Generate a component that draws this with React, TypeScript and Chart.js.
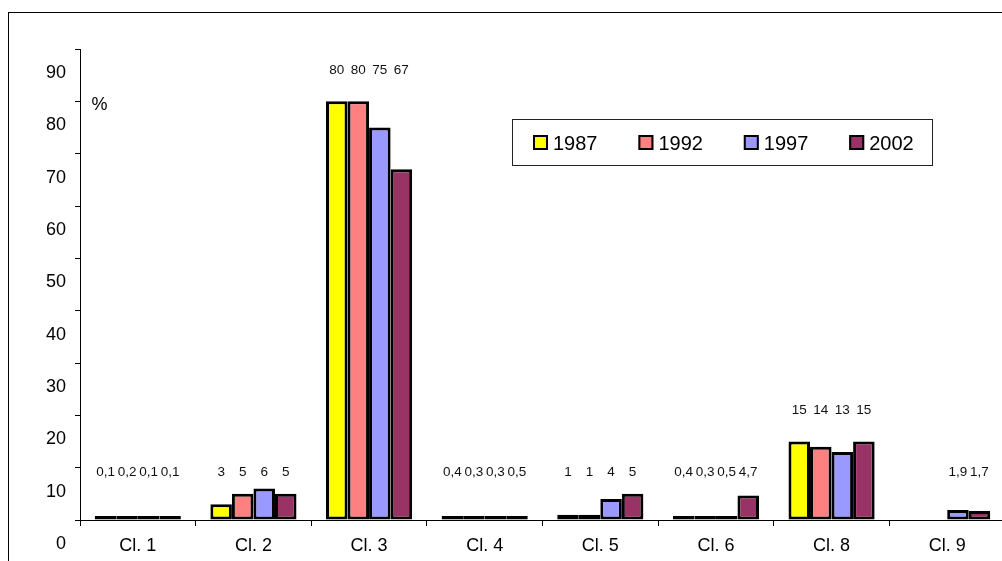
import React, { useEffect, useRef } from "react";
import { Chart, registerables } from "chart.js";

Chart.register(...registerables);

const categories = ["Cl. 1", "Cl. 2", "Cl. 3", "Cl. 4", "Cl. 5", "Cl. 6", "Cl. 8", "Cl. 9"];
const seriesNames = ["1987", "1992", "1997", "2002"];
const values1987 = [0.1, 3, 80, 0.4, 1, 0.4, 15, null];
const values1992 = [0.2, 5, 80, 0.3, 1, 0.3, 14, null];
const values1997 = [0.1, 6, 75, 0.3, 4, 0.5, 13, 1.9];
const values2002 = [0.1, 5, 67, 0.5, 5, 4.7, 15, 1.7];
const seriesColors = ["#FFFF00", "#FF8080", "#9999FF", "#993366"];
const yMin = 0;
const yMax = 90;
const yStep = 10;
const unitLabel = "%";

const FONT = "'Liberation Sans', Arial, sans-serif";

const fmt = (v: number) => String(v).replace(".", ",");

const framePlugin = {
  id: "frame",
  beforeDraw(chart: any) {
    const ctx = chart.ctx;
    ctx.save();
    ctx.fillStyle = "#fff";
    ctx.fillRect(0, 0, chart.width, chart.height);
    ctx.strokeStyle = "#000";
    ctx.lineWidth = 1;
    ctx.strokeRect(8.5, 12.5, 3000, 3000);
    ctx.restore();
  },
};

const valueLabelPlugin = {
  id: "valueLabels",
  afterDatasetsDraw(chart: any) {
    const ctx = chart.ctx;
    const yScale = chart.scales.y;
    ctx.save();
    ctx.font = `13.5px ${FONT}`;
    ctx.fillStyle = "#111";
    ctx.textAlign = "center";
    ctx.textBaseline = "middle";
    const n = chart.data.labels.length;
    for (let i = 0; i < n; i++) {
      let max = -Infinity;
      chart.data.datasets.forEach((ds: any) => {
        const v = ds.data[i];
        if (v != null && v > max) max = v;
      });
      const level = max >= 10 ? max + 6 : 9.2;
      const y = yScale.getPixelForValue(level);
      chart.data.datasets.forEach((ds: any, d: number) => {
        const v = ds.data[i];
        if (v == null) return;
        const el = chart.getDatasetMeta(d).data[i];
        ctx.fillText(fmt(v), el.x, y);
      });
    }
    ctx.restore();
  },
};

const legendPlugin = {
  id: "boxLegend",
  afterDraw(chart: any) {
    const ctx = chart.ctx;
    ctx.save();
    ctx.font = `18px ${FONT}`;
    ctx.fillStyle = "#000";
    ctx.textAlign = "center";
    ctx.textBaseline = "middle";
    ctx.fillText(unitLabel, 99.5, 105);

    ctx.strokeStyle = "#222";
    ctx.lineWidth = 1;
    ctx.strokeRect(512.5, 119.5, 420, 46);
    ctx.font = `20px ${FONT}`;
    ctx.textAlign = "left";
    ctx.textBaseline = "alphabetic";
    chart.data.datasets.forEach((ds: any, d: number) => {
      const x = 533 + d * 105.4;
      ctx.fillStyle = ds.legendColor;
      ctx.fillRect(x, 135, 15, 15);
      ctx.strokeStyle = "#000";
      ctx.lineWidth = 2;
      ctx.strokeRect(x + 1, 136, 13, 13);
      ctx.fillStyle = "#000";
      ctx.fillText(ds.label, x + 20, 150);
    });
    ctx.restore();
  },
};

export default function App() {
  const ref = useRef<HTMLCanvasElement>(null);

  useEffect(() => {
    if (!ref.current) return;
    const series = [values1987, values1992, values1997, values2002];
    const chart = new Chart(ref.current, {
      type: "bar",
      data: {
        labels: categories,
        datasets: series.map((vals, i) => ({
          label: seriesNames[i],
          data: vals,
          legendColor: seriesColors[i],
          backgroundColor: (c: any) => (c.raw == null ? "rgba(0,0,0,0)" : seriesColors[i]),
          borderColor: (c: any) => (c.raw == null ? "rgba(0,0,0,0)" : "#000"),
          borderWidth: 3,
          borderSkipped: false,
          minBarLength: 4,
          categoryPercentage: 0.745,
          barPercentage: 1,
        })) as any,
      },
      options: {
        animation: false,
        responsive: false,
        devicePixelRatio: 1,
        layout: { padding: { left: 0, top: 49, right: 25, bottom: 0 } },
        plugins: {
          legend: { display: false },
          tooltip: { enabled: false },
        },
        scales: {
          x: {
            grid: {
              offset: true,
              drawOnChartArea: false,
              drawTicks: true,
              tickLength: 6,
              color: "#000",
            },
            border: { color: "#000", width: 1 },
            ticks: {
              color: "#000",
              font: { family: FONT, size: 18 },
              padding: 9,
              maxRotation: 0,
              autoSkip: false,
            },
            afterFit: (s: any) => {
              s.height = 41;
            },
          },
          y: {
            min: yMin,
            max: yMax,
            grid: {
              drawOnChartArea: false,
              drawTicks: true,
              tickLength: 5,
              color: "#000",
            },
            border: { color: "#000", width: 1 },
            ticks: {
              stepSize: yStep,
              color: "#000",
              font: { family: FONT, size: 18 },
              padding: 9,
              labelOffset: 24,
              autoSkip: false,
            },
            afterFit: (s: any) => {
              s.width = 80;
            },
          },
        },
      },
      plugins: [framePlugin, valueLabelPlugin, legendPlugin],
    });
    return () => chart.destroy();
  }, []);

  return (
    <div
      style={{
        position: "fixed",
        left: 0,
        top: 0,
        width: 1002,
        height: 561,
        overflow: "hidden",
        background: "#fff",
      }}
    >
      <canvas ref={ref} width={1030} height={561} style={{ display: "block", width: 1030, height: 561 }} />
    </div>
  );
}
